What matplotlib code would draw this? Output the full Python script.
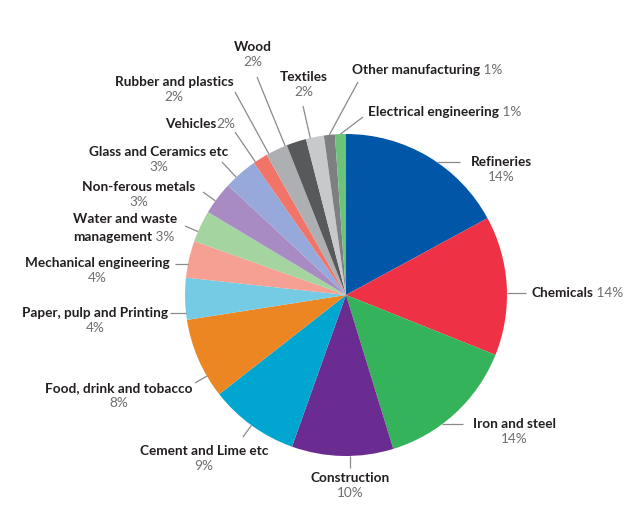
import numpy as np
import matplotlib
matplotlib.use("Agg")
import matplotlib.pyplot as plt

plt.rcParams["font.family"] = ["Lato", "DejaVu Sans"]

# 数据：扇区份额（按图形量取）与图上印出的百分比
names = ["Refineries", "Chemicals", "Iron and steel", "Construction",
         "Cement and Lime etc", "Food, drink and tobacco",
         "Paper, pulp and Printing", "Mechanical engineering",
         "Water and waste\nmanagement", "Non-ferous metals",
         "Glass and Ceramics etc", "Vehicles", "Rubber and plastics",
         "Wood", "Textiles", "Other manufacturing", "Electrical engineering"]
shares = [17.1, 14.0, 14.2, 10.2, 9.0, 8.1, 4.2, 3.7, 3.2, 3.3, 3.4,
          1.5, 2.2, 2.0, 1.8, 1.1, 1.1]
pct_labels = ["14%", "14%", "14%", "10%", "9%", "8%", "4%", "4%", "3%",
              "3%", "3%", "2%", "2%", "2%", "2%", "1%", "1%"]
colors = ["#0057a8", "#ee3145", "#35b35a", "#6b2c91", "#00a6cf", "#eb8623",
          "#74cbe3", "#f5a092", "#a4d4a0", "#a88bc2", "#97a9da", "#f07468",
          "#aeafb2", "#58595b", "#c8c9cb", "#7e7f82", "#6cc47a"]

# 版面（像素，左上为原点）：文字锚点、对齐、百分比位置、引线终点、引线方式
layout = [
    (471, 162, "left",   "below",  (460, 162), "h"),
    (531, 293, "left",   "inline", (526, 293), "h"),
    (473, 424, "left",   "below",  (463, 424), "h"),
    (350, 478, "center", "below",  (350, 468), "v"),
    (204, 451, "center", "below",  (243, 437), "radial"),
    (119, 388, "center", "below",  (195, 383), "radial"),
    (168, 313, "right",  "below",  (170, 313), "h"),
    (170, 263, "right",  "below",  (175, 264), "h"),
    (73,  237, "left",   "inline", (185, 226), "radial"),
    (139, 187, "center", "below",  (203, 192), "radial"),
    (159, 152, "center", "below",  (222, 162), "radial"),
    (165, 124, "left",   "tight",  (235, 132), "radial"),
    (174, 82,  "center", "below",  (235, 92),  "radial"),
    (253, 47,  "center", "below",  (257, 77),  "radial"),
    (304, 77,  "center", "below",  (303, 106), "radial"),
    (352, 70,  "left",   "inline", (358, 82),  "mid"),
    (368, 112, "left",   "inline", (363, 117), "mid"),
]

W, H = 627, 515
CX, CY, R = 346, 515 - 295, 161


def Y(y):
    return H - y


fig = plt.figure(figsize=(6.27, 5.15), dpi=100)
ax = fig.add_axes([0, 0, 1, 1])
wedges, _ = ax.pie(shares, colors=colors, startangle=90, counterclock=False,
                   center=(CX, CY), radius=R,
                   wedgeprops=dict(linewidth=0))
ax.set_xlim(0, W)
ax.set_ylim(0, H)
ax.set_aspect("equal")
ax.axis("off")

name_kw = dict(fontsize=9.8, fontweight="bold", color="#231f20")
pct_kw = dict(fontsize=9.8, color="#6d6e71")
line_kw = dict(color="#8a8a8a", lw=0.9, solid_capstyle="butt")

for w, name, pct, (x, y, ha, pmode, end, lmode) in zip(wedges, names, pct_labels, layout):
    # 引线
    ex, ey = end[0], Y(end[1])
    if lmode == "h":
        dy = ey - CY
        dx = np.sqrt(max(R**2 - dy**2, 0)) * np.sign(ex - CX)
        sx, sy = CX + dx, ey
    elif lmode == "v":
        sx, sy = ex, CY - np.sqrt(max(R**2 - (ex - CX)**2, 0))
    elif lmode == "mid":
        a = np.deg2rad((w.theta1 + w.theta2) / 2)
        sx, sy = CX + R * np.cos(a), CY + R * np.sin(a)
    else:
        d = np.hypot(ex - CX, ey - CY)
        sx, sy = CX + (ex - CX) * R / d, CY + (ey - CY) * R / d
    ax.plot([sx, ex], [sy, ey], **line_kw)

    # 标签
    lines = name.split("\n")
    for k, ln in enumerate(lines[:-1]):
        ax.text(x, Y(y - 18 * (len(lines) - 1 - k)), ln, ha=ha, va="center", **name_kw)
    t = ax.text(x, Y(y), lines[-1], ha=ha, va="center", **name_kw)
    if pmode == "below":
        ax.annotate(pct, xy=(0.5, 0), xycoords=t, xytext=(0, -2),
                    textcoords="offset points", ha="center", va="top", **pct_kw)
    else:
        sep = " " if pmode == "inline" else ""
        ax.annotate(sep + pct, xy=(1, 0), xycoords=t, ha="left", va="bottom", **pct_kw)

fig.savefig("out.png", dpi=100)
